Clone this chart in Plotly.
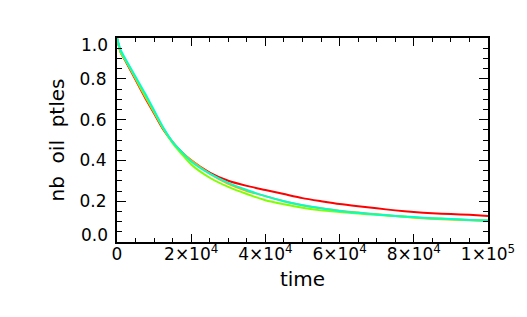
import plotly.graph_objects as go

time = [0, 1000, 2500, 5000, 7500, 10000, 12500, 15000, 17500, 20000, 25000, 30000,
        35000, 40000, 45000, 50000, 55000, 60000, 65000, 70000, 75000, 80000,
        85000, 90000, 95000, 100000]

red = [1.0, 0.93, 0.88, 0.795, 0.71, 0.63, 0.55, 0.49, 0.44, 0.40, 0.34, 0.30,
       0.275, 0.255, 0.235, 0.215, 0.20, 0.186, 0.175, 0.165, 0.155, 0.147,
       0.141, 0.137, 0.133, 0.128]
orange = [1.0, 0.93, 0.885, 0.80, 0.715, 0.635, 0.555, 0.49, 0.44, 0.40, 0.335, 0.285,
          0.25, 0.225, 0.20, 0.18, 0.165, 0.153, 0.144, 0.136, 0.128, 0.12,
          0.114, 0.11, 0.107, 0.103]
green = [1.0, 0.93, 0.885, 0.805, 0.72, 0.64, 0.555, 0.485, 0.43, 0.38, 0.315, 0.27,
         0.235, 0.205, 0.185, 0.168, 0.155, 0.147, 0.14, 0.133, 0.127, 0.12,
         0.115, 0.112, 0.108, 0.105]
cyan = [1.0, 0.94, 0.89, 0.81, 0.73, 0.645, 0.56, 0.49, 0.44, 0.395, 0.335, 0.29,
        0.255, 0.225, 0.20, 0.18, 0.165, 0.152, 0.143, 0.135, 0.128, 0.122,
        0.117, 0.113, 0.108, 0.105]

series = [("red", red, "#ff0000"), ("orange", orange, "#ffa500"),
          ("green", green, "#80ff00"), ("cyan", cyan, "#00ffcc")]

x_tickvals = [0, 20000, 40000, 60000, 80000, 100000]
x_ticktext = ["0", "2×10<sup>4</sup>", "4×10<sup>4</sup>", "6×10<sup>4</sup>",
              "8×10<sup>4</sup>", "1×10<sup>5</sup>"]
y_tickvals = [0.0, 0.2, 0.4, 0.6, 0.8, 1.0]
y_ticktext = ["0.0", "0.2", "0.4", "0.6", "0.8", "1.0"]
# end labels are nudged inward (as in the reference), drawn as annotations
y_inner = ["" if v in (0.0, 1.0) else t for v, t in zip(y_tickvals, y_ticktext)]

fig = go.Figure()
for name, vals, col in series:
    fig.add_trace(go.Scatter(x=time, y=vals, mode="lines", name=name,
                             line=dict(color=col, width=2, shape="spline", smoothing=0.6)))

font = dict(family="DejaVu Sans", size=17, color="black")
for v, t in zip(y_tickvals, y_ticktext):
    if v in (0.0, 1.0):
        fig.add_annotation(x=0, xref="paper", y=v, yref="y", text=t, showarrow=False,
                           xanchor="right", yanchor="middle", xshift=-7,
                           yshift=(7 if v == 0.0 else -7), font=font)

fig.update_layout(
    width=527, height=317,
    margin=dict(l=117, r=35, t=38, b=75),
    paper_bgcolor="white", plot_bgcolor="white",
    showlegend=False, font=font,
    xaxis=dict(range=[0, 100000], tickvals=x_tickvals, ticktext=x_ticktext,
               showgrid=False, zeroline=False, showline=True, linecolor="black",
               linewidth=2, mirror="allticks", ticks="inside", ticklen=8,
               tickwidth=1, tickcolor="black", ticklabelstandoff=-4,
               minor=dict(dtick=5000, ticks="inside", ticklen=4, tickcolor="black", showgrid=False),
               title=dict(text="time", standoff=9), tickfont=font),
    yaxis=dict(range=[0, 1], tickvals=y_tickvals, ticktext=y_inner,
               showgrid=False, zeroline=False, showline=True, linecolor="black",
               linewidth=2, mirror="allticks", ticks="inside", ticklen=9,
               tickwidth=1, tickcolor="black", ticklabelstandoff=5,
               minor=dict(dtick=0.05, ticks="inside", ticklen=5, tickcolor="black", showgrid=False),
               title=dict(text="nb\u00a0 oil\u00a0 ptles", standoff=10), tickfont=font),
)
fig.write_html("out.html", config={"displayModeBar": False},
               post_script="document.body.style.margin='0';")
